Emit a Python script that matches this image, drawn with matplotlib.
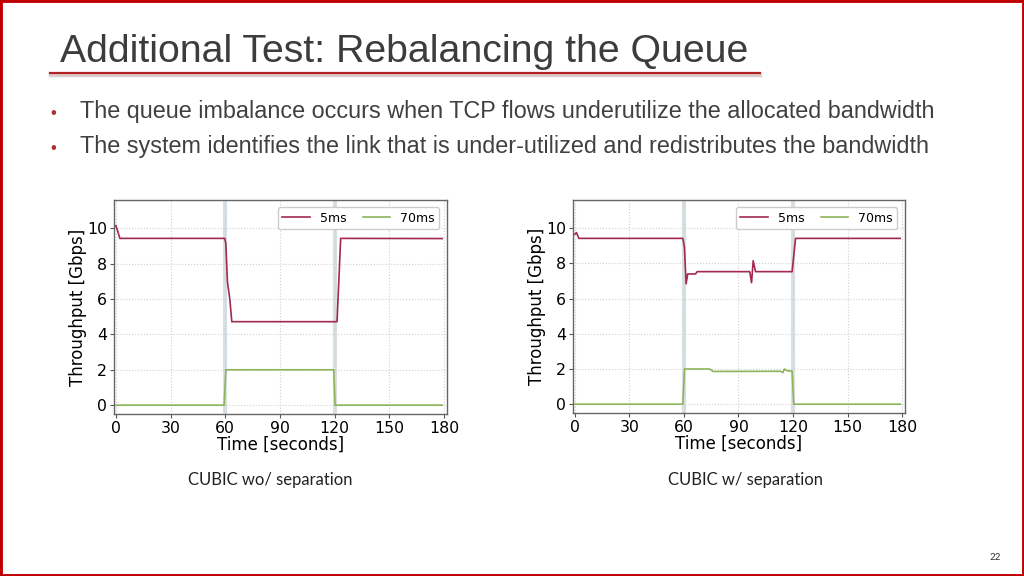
import numpy as np
import matplotlib.pyplot as plt
from matplotlib.patches import Rectangle
from matplotlib.lines import Line2D

plt.rcParams['font.family'] = ['DejaVu Sans']

# --- data (time in s, throughput in Gbps) ---
t_wo_5 = [0, 1, 2.2, 59.7, 60.3, 61.2, 62.5, 63.6, 121.3, 123.3, 179]
y_wo_5 = [10.15, 9.85, 9.43, 9.43, 9.15, 6.98, 6.0, 4.72, 4.72, 9.43, 9.42]
t_wo_70 = [0, 59.4, 60.3, 119.5, 120.2, 179]
y_wo_70 = [0, 0, 2.0, 2.0, 0, 0]

t_w_5 = [0, 0.9, 2.2, 59.4, 60.3, 61.2, 62.1, 66.4, 67.3, 96.2, 97.2, 98.1, 99.4, 119.5, 121.4, 179]
y_w_5 = [9.65, 9.75, 9.42, 9.42, 8.9, 6.84, 7.4, 7.4, 7.53, 7.53, 6.9, 8.15, 7.53, 7.53, 9.42, 9.42]
t_w_70 = [0, 59.4, 60.3, 74.2, 76.1, 113, 114.4, 115.3, 116.8, 119.5, 120.4, 179]
y_w_70 = [0, 0, 2.0, 2.0, 1.86, 1.87, 1.8, 2.0, 1.9, 1.88, 0, 0]

xticks = [0, 30, 60, 90, 120, 150, 180]
yticks = [0, 2, 4, 6, 8, 10]
events = [60, 120]

title = "Additional Test: Rebalancing the Queue"
bullets = ["The queue imbalance occurs when TCP flows underutilize the allocated bandwidth",
           "The system identifies the link that is under-utilized and redistributes the bandwidth"]
captions = ["CUBIC wo/ separation", "CUBIC w/ separation"]

c5 = '#A3294F'
c70 = '#8DB45A'
W, H = 1024, 576

fig = plt.figure(figsize=(W/100, H/100), dpi=100)
fig.patch.set_facecolor('white')

def px(x0, y0, x1, y1):
    return [x0/W, 1 - y1/H, (x1-x0)/W, (y1-y0)/H]

def panel(rect, t5, y5, t70, y70):
    ax = fig.add_axes(rect)
    for e in events:
        ax.axvline(e, color='#c9d3db', lw=3, alpha=0.7, zorder=1)
    ax.plot(t5, y5, color=c5, lw=1.2, label='5ms', zorder=3)
    ax.plot(t70, y70, color=c70, lw=1.2, label='70ms', zorder=3)
    ax.set_xlim(-1, 181.6)
    ax.set_ylim(-0.5, 11.6)
    ax.set_xticks(xticks)
    ax.set_yticks(yticks)
    ax.grid(True, ls=':', color='#cfcfcf', lw=0.8)
    ax.tick_params(labelsize=11.3, length=3, color='#555555', pad=2)
    ax.set_xlabel('Time [seconds]', fontsize=12, labelpad=0)
    ax.set_ylabel('Throughput [Gbps]', fontsize=12, labelpad=0)
    for s in ax.spines.values():
        s.set_color('#666666')
        s.set_linewidth(1)
    ax.legend(loc='upper right', ncol=2, fontsize=9, handlelength=2.2,
              columnspacing=1.3, borderpad=0.35, framealpha=1, edgecolor='#cccccc',
              fancybox=True, bbox_to_anchor=(0.995, 0.995))
    return ax

panel(px(114, 200, 447, 414), t_wo_5, y_wo_5, t_wo_70, y_wo_70)
panel(px(573, 200, 905, 413), t_w_5, y_w_5, t_w_70, y_w_70)

# slide decorations
fig.text(60/W, 1 - 62/H, title, fontsize=28.3, family='Liberation Sans', color='#3c3c3c', va='baseline')
fig.add_artist(Line2D([50/W, 760/W], [1 - 75/H, 1 - 75/H], color='#dccccc', lw=2.5))
fig.add_artist(Line2D([50/W, 760/W], [1 - 73/H, 1 - 73/H], color='#B22222', lw=1.6))
for i, b in enumerate(bullets):
    yb = 1 - (118 + 35*i)/H
    fig.text(50/W, yb, u'\u2022', fontsize=12, color='#B03030', family='Liberation Sans', va='baseline')
    fig.text(80/W, yb, b, fontsize=16.8, family='Liberation Sans', color='#404040', va='baseline')

fig.text(270/W, 1 - 480/H, captions[0], fontsize=12, family='Lato', ha='center', va='center', color='#222222')
fig.text(745/W, 1 - 480/H, captions[1], fontsize=12, family='Lato', ha='center', va='center', color='#222222')
fig.text(995/W, 1 - 558/H, '22', fontsize=7, family='Lato', ha='center', va='center', color='#333333')

fig.add_artist(Rectangle((0, 0), 1, 1, transform=fig.transFigure, fill=False,
                         edgecolor='#C00000', lw=3.5))

fig.savefig('out.png', dpi=100)
